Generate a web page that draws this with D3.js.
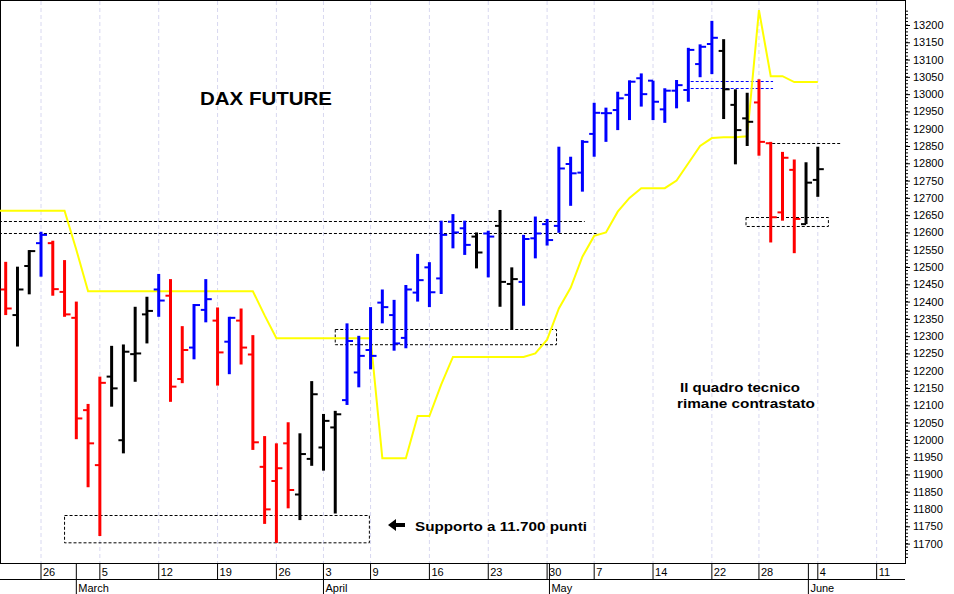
<!DOCTYPE html>
<html>
<head>
<meta charset="utf-8">
<script src="https://cdn.jsdelivr.net/npm/d3@7"></script>
<style>
body { margin: 0; background: #fff; }
text { font-family: Arial, "Liberation Sans", sans-serif; }
</style>
</head>
<body>
<svg id="chart" width="954" height="594"></svg>
<script>
// trading days, Feb 21 .. Jun 4 2018 (index = position)
var dates = ["02-21","02-22","02-23","02-26","02-27","02-28","03-01","03-02","03-05","03-06","03-07","03-08","03-09",
 "03-12","03-13","03-14","03-15","03-16","03-19","03-20","03-21","03-22","03-23","03-26","03-27","03-28","03-29",
 "04-03","04-04","04-05","04-06","04-09","04-10","04-11","04-12","04-13","04-16","04-17","04-18","04-19","04-20",
 "04-23","04-24","04-25","04-26","04-27","04-30","05-02","05-03","05-04","05-07","05-08","05-09","05-10","05-11",
 "05-14","05-15","05-16","05-17","05-18","05-22","05-23","05-24","05-25","05-28","05-29","05-30","05-31","06-01","06-04"];
var open  = [12435,12361,12503,12569,12569,12428,12353,12086,11927,12183,11999,12248,12363,12435,12417,12176,12267,12376,12345,12284,12345,12247,11922,11881,11990,11842,11945,11978,12036,12115,12195,12260,12397,12361,12295,12426,12499,12467,12631,12612,12588,12597,12619,12451,12457,12583,12624,12619,12798,12773,12885,12945,12954,12998,13046,13039,12956,13010,13012,13087,13145,13125,12969,12930,12976,12858,12658,12781,12624,12752];
var high  = [12515,12501,12549,12602,12576,12520,12400,12104,12183,12272,12276,12385,12414,12480,12465,12329,12393,12465,12383,12356,12380,12303,12011,11990,12051,12019,12170,12075,12084,12337,12301,12384,12435,12405,12448,12538,12514,12634,12653,12634,12600,12605,12665,12499,12593,12646,12639,12848,12819,12867,12975,12961,13007,13040,13060,13039,13017,13041,13134,13144,13212,13159,13014,13004,13043,12862,12833,12811,12803,12848];
var low   = [12361,12270,12421,12472,12417,12356,12002,11863,11722,12096,11961,12168,12279,12356,12110,12164,12233,12340,12157,12190,12218,11971,11757,11702,11802,11768,11925,11911,11787,12101,12152,12204,12337,12258,12265,12400,12384,12422,12554,12535,12496,12470,12385,12320,12388,12525,12562,12599,12677,12718,12819,12862,12896,12925,12964,12925,12917,12959,12978,13049,13058,12928,12797,12850,12822,12571,12634,12540,12624,12703];
var close = [12380,12435,12546,12593,12436,12363,12062,11990,12165,12149,12255,12250,12373,12403,12154,12260,12390,12407,12253,12353,12267,11993,11799,11918,11855,11959,12132,12055,12074,12286,12243,12243,12384,12279,12435,12462,12427,12593,12600,12564,12542,12588,12457,12465,12581,12597,12578,12785,12771,12862,12946,12945,12988,13036,13000,12978,13010,13026,13128,13137,13163,13014,12896,12920,12862,12644,12816,12639,12744,12783];
// bar colour code: b = blue, k = black, r = red
var barColor = "rkkbrrrrrkkkkbrrbbrbrrrrrkkkkbbbbbbbbbbbkbkkbbbbbbbbbbbbbbbbbkkkrrrrkk";
var stopLine = [12663,12663,12663,12663,12663,12663,12550,12430,12430,12430,12430,12430,12430,12430,12430,12430,12430,12430,12430,12430,12430,12430,12360,12294,12294,12294,12294,12294,12294,12294,12294,12294,11947,11947,11947,12069,12069,12160,12240,12240,12240,12240,12240,12240,12240,12250,12290,12380,12440,12530,12590,12600,12660,12700,12728,12728,12728,12750,12800,12850,12873,12875,12875,12878,13243,13052,13052,13035,13035,13035];
var weekTicks = [{i:3,t:"26"},{i:8,t:"5"},{i:13,t:"12"},{i:18,t:"19"},{i:23,t:"26"},{i:27,t:"3"},{i:31,t:"9"},{i:36,t:"16"},{i:41,t:"23"},{i:46,t:"30"},{i:50,t:"7"},{i:55,t:"14"},{i:60,t:"22"},{i:64,t:"28"},{i:69,t:"4"},{i:74,t:"11"}];
var months = [{i:6,t:"March"},{i:27,t:"April"},{i:46.2,t:"May"},{i:68.2,t:"June"}];
// annotation levels: [from index, to index, value]
var dashedLevels = [{a:-1,b:49.2,v:12634,c:"#000"},{a:-1,b:50.2,v:12599,c:"#000"},
                    {a:58.2,b:65.2,v:13039,c:"#00f"},{a:58.2,b:65.2,v:13017,c:"#00f"},
                    {a:64.7,b:70.9,v:12858,c:"#000"}];
var boxes = [{a:28,b:46.8,v1:12320,v2:12276},{a:5,b:30.9,v1:11783,v2:11704},{a:62.9,b:69.9,v1:12645,v2:12619}];

var colorMap = {b:"#0000ff", k:"#000000", r:"#ff0000"};
var svg = d3.select("#chart");
var W = 905, H = 563;

var x = d3.scaleLinear().domain([0, 69]).range([5.7, 817.8]);
var y = d3.scaleLinear().domain([11700, 13200]).range([543.6, 25]);

// frame
svg.append("rect").attr("x",0.5).attr("y",0.5).attr("width",W).attr("height",H)
  .attr("fill","none").attr("stroke","#000");

// vertical grid
svg.selectAll(".grid").data(weekTicks).enter().append("line")
  .attr("x1", d => x(d.i)).attr("x2", d => x(d.i)).attr("y1", 1).attr("y2", H)
  .attr("stroke", "#d8d8f0").attr("stroke-dasharray", "4,3");

var plot = svg.append("g");
plot.append("clipPath").attr("id","clip").append("rect").attr("x",0).attr("y",0).attr("width",W).attr("height",H);
plot.attr("clip-path","url(#clip)");

// annotations
plot.selectAll(".lvl").data(dashedLevels).enter().append("line")
  .attr("x1", d => x(d.a)).attr("x2", d => x(d.b))
  .attr("y1", d => Math.round(y(d.v))+0.5).attr("y2", d => Math.round(y(d.v))+0.5)
  .attr("stroke", d => d.c).attr("stroke-dasharray","3,2");
plot.selectAll(".box").data(boxes).enter().append("rect")
  .attr("x", d => x(d.a)).attr("width", d => x(d.b)-x(d.a))
  .attr("y", d => Math.round(y(d.v1))+0.5).attr("height", d => y(d.v2)-y(d.v1))
  .attr("fill","none").attr("stroke","#000").attr("stroke-dasharray","3,2");

// stop line
plot.append("path").datum(stopLine)
  .attr("d", d3.line().x((d,i) => i === 0 ? 0 : x(i)).y(d => y(d)))
  .attr("fill","none").attr("stroke","#ffff00").attr("stroke-width",2);

// OHLC bars
var bars = plot.selectAll(".bar").data(dates).enter().append("g")
  .attr("stroke", (d,i) => colorMap[barColor[i]]).attr("stroke-width", 3);
bars.append("line").attr("x1",(d,i)=>x(i)).attr("x2",(d,i)=>x(i))
  .attr("y1",(d,i)=>y(high[i])).attr("y2",(d,i)=>y(low[i]));
bars.append("line").attr("x1",(d,i)=>x(i)-5).attr("x2",(d,i)=>x(i))
  .attr("y1",(d,i)=>y(open[i])).attr("y2",(d,i)=>y(open[i])).attr("stroke-width",2);
bars.append("line").attr("x1",(d,i)=>x(i)).attr("x2",(d,i)=>x(i)+6)
  .attr("y1",(d,i)=>y(close[i])).attr("y2",(d,i)=>y(close[i])).attr("stroke-width",2);

// right axis
var yAxis = d3.axisRight(y).tickValues(d3.range(11700, 13201, 50)).tickSize(5).tickFormat(d3.format("d"));
var ax = svg.append("g").attr("transform","translate("+W+",0)").call(yAxis);
ax.select(".domain").remove();
ax.selectAll("text").attr("font-size", 11).attr("fill","#000").attr("x", 8);
ax.selectAll(".minor").data(d3.range(11660, 13250, 10)).enter().append("line")
  .attr("x1",0).attr("x2",3).attr("y1",d=>y(d)).attr("y2",d=>y(d)).attr("stroke","#000");

// bottom axis
svg.append("line").attr("x1",0).attr("x2",W).attr("y1",579.5).attr("y2",579.5).attr("stroke","#000");
svg.selectAll(".wk").data(weekTicks).enter().append("line")
  .attr("x1",d=>x(d.i)).attr("x2",d=>x(d.i)).attr("y1",H).attr("y2",579).attr("stroke","#000");
svg.selectAll(".wkt").data(weekTicks).enter().append("text")
  .attr("x",d=>x(d.i)+2).attr("y",576).attr("font-size",11).text(d=>d.t);
svg.selectAll(".mo").data(months).enter().append("line")
  .attr("x1",d=>x(d.i)).attr("x2",d=>x(d.i)).attr("y1",H).attr("y2",594).attr("stroke","#000");
svg.selectAll(".mot").data(months).enter().append("text")
  .attr("x",d=>x(d.i)+2).attr("y",592).attr("font-size",11).text(d=>d.t);

// texts
function label(tx, ty, size, len, str) {
  svg.append("text").attr("x",tx).attr("y",ty).attr("font-size",size).attr("font-weight","bold")
    .attr("textLength",len).attr("lengthAdjust","spacingAndGlyphs").text(str);
}
label(200, 105, 18, 132, "DAX FUTURE");
label(680, 392, 13, 120, "Il quadro tecnico");
label(677, 408, 13, 138, "rimane contrastato");
label(415, 531, 13, 172, "Supporto a 11.700 punti");
svg.append("path").attr("d","M388,525 L396,519 L396,523 L405,523 L405,527 L396,527 L396,531 Z").attr("fill","#000");
</script>
</body>
</html>
